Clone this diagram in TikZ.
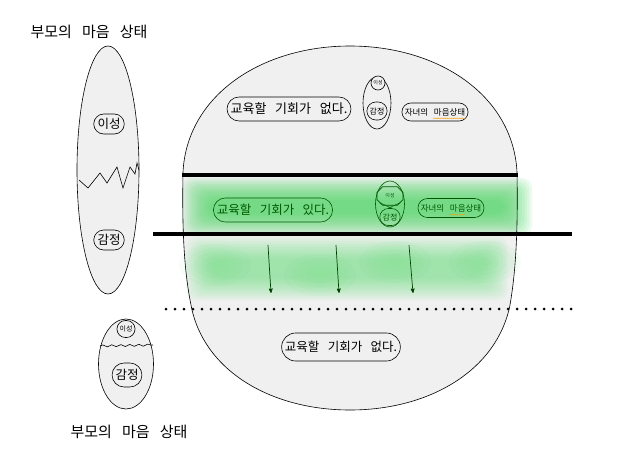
\documentclass[tikz,border=0pt]{standalone}
\usepackage{fontspec}
\setmainfont[WordSpace=3]{Noto Sans CJK KR}
\usetikzlibrary{arrows,shapes.misc,shapes.geometric,decorations.pathmorphing}

\begin{document}
\begin{tikzpicture}[x=1pt,y=-1pt,>=stealth',font=\fontsize{12.5}{14}\selectfont]
		\tikzstyle{pill}=[rounded rectangle, draw=black, fill=gray!12, line width=0.6pt, inner xsep=2pt, inner ysep=1pt]
		\tikzstyle{pill green}=[rounded rectangle, draw=green!35!black, text=green!35!black, line width=0.6pt, inner xsep=2pt, inner ysep=1pt]
		\tikzstyle{egg}=[ellipse, draw=black, fill=gray!12, line width=0.6pt]
		\tikzstyle{heavy}=[line width=3.5pt, black]
		\tikzstyle{flow}=[->, green!25!black, line width=0.7pt]
		\tikzstyle{haze}=[fill={rgb,255:red,80;green,215;blue,105}, opacity=0.11]
		\tikzstyle{haze light}=[fill={rgb,255:red,110;green,225;blue,130}, opacity=0.07]
		\tikzstyle{squiggle}=[orange!80!yellow, line width=0.3pt, decorate, decoration={snake, amplitude=0.4pt, segment length=1.6pt}]

		\useasboundingbox (0,0) rectangle (638,474);

		% parent's mind, left
		\node (title) at (89,32) {\fontsize{15}{17}\selectfont 부모의 마음 상태};
		\node [egg, minimum width=62pt, minimum height=248pt] (mind) at (108,170) {};
		\node [pill, minimum height=20pt] (reason) at (109,124) {이성};
		\node [pill, minimum height=20pt] (emotion) at (109,240) {감정};
		\draw [line width=0.6pt] (79,180) -- (88,188) -- (100,173) -- (107,183) -- (117,167) -- (123,188) -- (130,167) -- (135,174) -- (137,163) -- (139,170);

		% the big round frame
		\path [save path=\rim] (183,172) .. controls (187,95) and (262,46) .. (350,46)
			.. controls (438,46) and (513,95) .. (517,172)
			.. controls (518,230) and (516,270) .. (510,305)
			.. controls (497,370) and (430,410) .. (350,410)
			.. controls (270,410) and (203,370) .. (191,305)
			.. controls (184,270) and (182,230) .. (183,172) -- cycle;
		\fill [gray!12, use path=\rim];
		\foreach \k in {0,...,11} {
			\fill [haze, rounded corners=10pt] (182+\k*2.5,178+\k*2) rectangle (532-\k*2.5,236-\k*2);
			\fill [haze light, rounded corners=10pt] (186+\k*2.5,237+\k*2) rectangle (508-\k*2.5,300-\k*2);
		}
		\foreach \cx/\cy in {215/265, 320/275, 395/262, 485/262} {
			\foreach \r in {6,12,...,30} {
				\fill [haze light] (\cx,\cy) ellipse ({\r*1.2} and \r*0.7);
			}
		}
		\draw [line width=0.6pt, use path=\rim];

		% top part
		\node [pill, font=\fontsize{13}{15}\selectfont, minimum height=24pt] (none top) at (289,109) {교육할 기회가 없다.};
		\node [ellipse, draw=black, line width=0.6pt, minimum width=28pt, minimum height=52pt] (kid top) at (377,103) {};
		\node [pill, font=\fontsize{5}{6}\selectfont, inner xsep=2pt, minimum height=14pt] (kid reason top) at (378,83) {이성};
		\node [pill, font=\fontsize{8}{9}\selectfont, inner xsep=2pt, minimum height=18pt] (kid emotion top) at (377,111) {감정};
		\node [pill, font=\fontsize{8.5}{10}\selectfont, minimum height=18pt] (kid mind top) at (435,112) {자녀의 마음상태};
		\draw [squiggle] ([xshift=-2pt,yshift=3pt]kid mind top.south) -- ([xshift=31pt,yshift=3pt]kid mind top.south);

		% green middle part
		\node [pill green, minimum height=24pt] (chance) at (273,210) {교육할 기회가 있다.};
		\node [ellipse, draw=green!35!black, line width=0.6pt, minimum width=29pt, minimum height=46pt] (kid mid) at (390,204) {};
		\node [chamfered rectangle, draw=green!35!black, text=green!35!black, line width=0.6pt, font=\fontsize{5}{6}\selectfont, chamfered rectangle xsep=2pt, minimum width=26pt, minimum height=13pt] (kid reason mid) at (390,196) {이성};
		\node [pill green, font=\fontsize{8}{9}\selectfont, inner xsep=2pt, minimum height=17pt] (kid emotion mid) at (390,217) {감정};
		\draw [green!35!black, line width=0.5pt] (kid reason mid.south west) -- (kid emotion mid.north east);
		\draw [green!35!black, line width=0.5pt] (kid reason mid.south east) -- (kid emotion mid.north west);
		\node [pill green, font=\fontsize{8.5}{10}\selectfont, minimum height=19pt] (kid mind mid) at (451,208) {자녀의 마음상태};
		\draw [squiggle] ([xshift=-2pt,yshift=3pt]kid mind mid.south) -- ([xshift=14pt,yshift=3pt]kid mind mid.south);

		% borders
		\coordinate (top a) at (182,175);
		\coordinate (top b) at (518,175);
		\coordinate (mid a) at (153,234);
		\coordinate (mid b) at (572,234);
		\coordinate (dot a) at (166,309);
		\coordinate (dot b) at (575,309);
		\draw [heavy] (top a) -- (top b);
		\draw [heavy] (mid a) -- (mid b);
		\draw [line width=3pt, line cap=round, dash pattern=on 0pt off 9pt] (dot a) -- (dot b);

		\foreach \xa/\xb [count=\i] in {268/271, 336/339, 409/413} {
			\coordinate (drop\i) at (\xa,245);
			\coordinate (land\i) at (\xb,293);
			\draw [flow] (drop\i) -- (land\i);
		}

		% bottom part
		\node [pill, minimum height=28pt] (none low) at (341,347) {교육할 기회가 없다.};

		\node [egg, minimum width=55pt, minimum height=90pt] (mind low) at (126,364) {};
		\draw [line width=0.6pt, decorate, decoration={snake, amplitude=1pt, segment length=9pt}] (100,346) -- (153,345);
		\node [pill, font=\fontsize{7}{8}\selectfont, inner xsep=2pt, minimum height=17pt] (reason low) at (126,329) {이성};
		\node [pill, minimum height=24pt] (emotion low) at (127,375) {감정};
		\node (title low) at (129,432) {\fontsize{15}{17}\selectfont 부모의 마음 상태};
	\end{tikzpicture}
\end{document}
